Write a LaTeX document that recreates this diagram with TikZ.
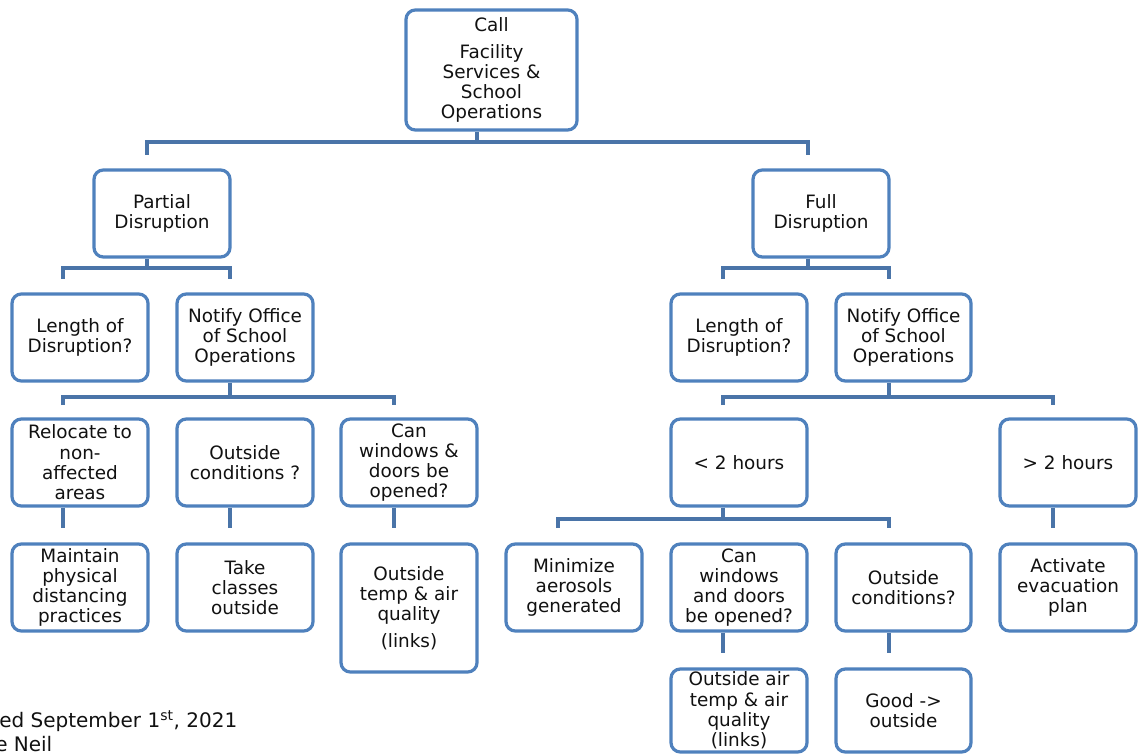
\documentclass[tikz,border=0pt]{standalone}
\usepackage{fontspec}
\setmainfont{DejaVu Sans}
\definecolor{bord}{HTML}{4F81BD}
\definecolor{connblue}{HTML}{4A74A8}
\definecolor{txt}{HTML}{111111}
\newcommand\bx[6]{\node[box, minimum width={(#4-#2)*0.75pt}, minimum height={(#5-#3)*0.75pt}] (#1) at ({(#2+#4)/2},{(#3+#5)/2}) {#6};}
\begin{document}
\begin{tikzpicture}[x=0.75pt,y=-0.75pt,
  box/.style={draw=bord, line width=2.4pt, rounded corners=7pt, fill=white, align=center, inner sep=0pt, text=txt, font=\fontsize{13.8}{15.2}\selectfont},
  conn/.style={draw=connblue, line width=3.6pt},
  note/.style={anchor=base west, inner sep=0pt, text=txt, font=\fontsize{15}{18}\selectfont}]
\useasboundingbox (0,0) rectangle (1141,755);
\clip (0,0) rectangle (1141,755);

% boxes
\bx{call}{406}{10}{577}{130}{Call\\[5pt]Facility\\Services \&\\School\\Operations}
\bx{partial}{94}{170}{230}{257}{Partial\\Disruption}
\bx{full}{753}{170}{889}{257}{Full\\Disruption}
\bx{lenL}{12}{294}{148}{381}{Length of\\Disruption?}
\bx{notL}{177}{294}{313}{381}{Notify Office\\of School\\Operations}
\bx{lenR}{671}{294}{807}{381}{Length of\\Disruption?}
\bx{notR}{836}{294}{971}{381}{Notify Office\\of School\\Operations}
\bx{reloc}{12}{419}{148}{506}{Relocate to\\non-\\affected\\areas}
\bx{outL}{177}{419}{313}{506}{Outside\\conditions ?}
\bx{winL}{341}{419}{477}{506}{Can\\windows \&\\doors be\\opened?}
\bx{lt}{671}{419}{807}{506}{< 2 hours}
\bx{gt}{1000}{419}{1136}{506}{> 2 hours}
\bx{maint}{12}{544}{148}{631}{Maintain\\physical\\distancing\\practices}
\bx{take}{177}{544}{313}{631}{Take\\classes\\outside}
\bx{temp}{341}{544}{477}{672}{Outside\\temp \& air\\quality\\[5pt](links)}
\bx{mini}{506}{544}{642}{631}{Minimize\\aerosols\\generated}
\bx{winR}{671}{544}{807}{631}{Can\\windows\\and doors\\be opened?}
\bx{outR}{836}{544}{971}{631}{Outside\\conditions?}
\bx{evac}{1000}{544}{1136}{631}{Activate\\evacuation\\plan}
\bx{air}{671}{669}{807}{752}{Outside air\\temp \& air\\quality\\(links)}
\bx{good}{836}{669}{971}{752}{Good ->\\outside}

% junction / free-end coordinates
\coordinate (jc) at (477,142);
\coordinate (t1) at (147,155);
\coordinate (t2) at (808,155);
\coordinate (jp) at (147,268);
\coordinate (p1) at (63,279);
\coordinate (p2) at (230,279);
\coordinate (jnl) at (230,397);
\coordinate (n1) at (63,405);
\coordinate (n2) at (394,405);
\coordinate (jf) at (808,268);
\coordinate (f1) at (723,279);
\coordinate (f2) at (889,279);
\coordinate (jnr) at (889,397);
\coordinate (r1) at (723,405);
\coordinate (r2) at (1053,405);
\coordinate (jl) at (723,519);
\coordinate (l1) at (558,528);
\coordinate (l2) at (889,528);
\coordinate (e1) at (63,528);
\coordinate (e2) at (230,528);
\coordinate (e3) at (394,528);
\coordinate (e4) at (1053,528);
\coordinate (e5) at (723,653);
\coordinate (e6) at (889,653);

% connectors
\draw[conn] (call.south -| jc) -- (jc);
\draw[conn] (t1) -- ++(0,-13) -| (t2);
\draw[conn] (partial.south -| jp) -- (jp);
\draw[conn] (p1) -- ++(0,-11) -| (p2);
\draw[conn] (notL.south -| jnl) -- (jnl);
\draw[conn] (n1) -- ++(0,-8) -| (n2);
\draw[conn] (full.south -| jf) -- (jf);
\draw[conn] (f1) -- ++(0,-11) -| (f2);
\draw[conn] (notR.south -| jnr) -- (jnr);
\draw[conn] (r1) -- ++(0,-8) -| (r2);
\draw[conn] (lt.south -| jl) -- (jl);
\draw[conn] (l1) -- ++(0,-9) -| (l2);
\draw[conn] (reloc.south -| e1) -- (e1);
\draw[conn] (outL.south -| e2) -- (e2);
\draw[conn] (winL.south -| e3) -- (e3);
\draw[conn] (gt.south -| e4) -- (e4);
\draw[conn] (winR.south -| e5) -- (e5);
\draw[conn] (outR.south -| e6) -- (e6);

% footer text (cut off at the left edge, as in the reference)
\node[note] (foot1) at (-1,727) {ed September 1\textsuperscript{st}, 2021};
\node[note] (foot2) at (-5,751) {e Neil};
\end{tikzpicture}
\end{document}
